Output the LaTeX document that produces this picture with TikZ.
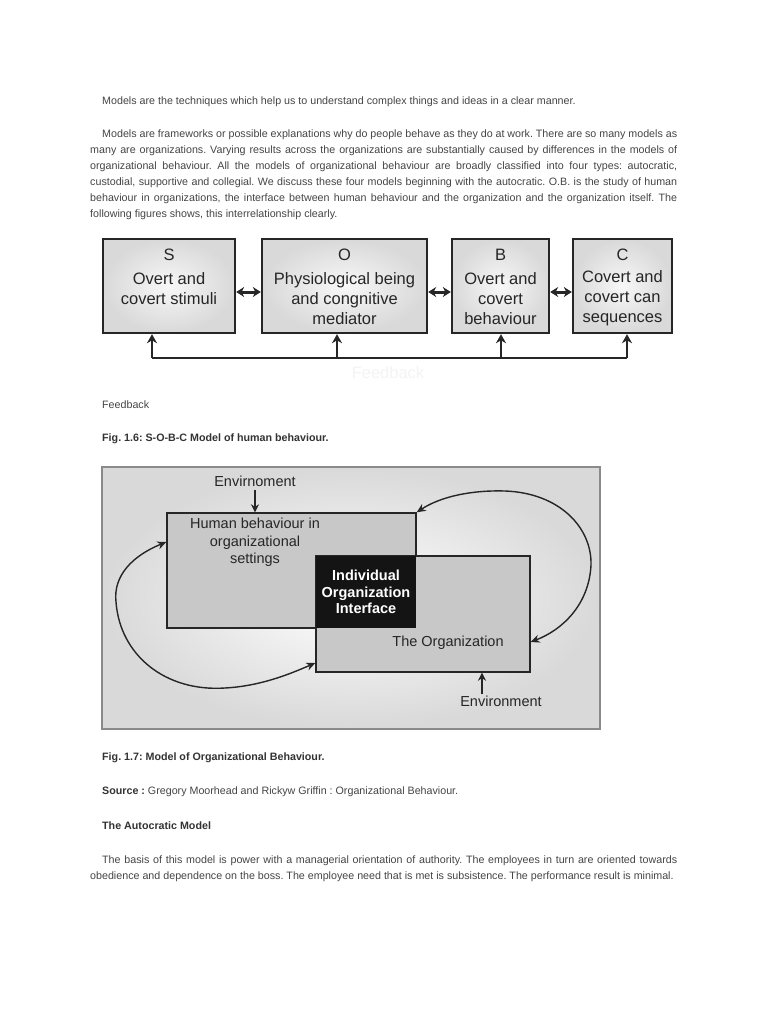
\documentclass[tikz,border=0pt]{standalone}
\usepackage{fontspec}
\setmainfont{Liberation Sans}
\usetikzlibrary{arrows.meta}
\definecolor{txt}{HTML}{454545}
\definecolor{captc}{HTML}{333333}
\definecolor{boxedge}{HTML}{262626}
\definecolor{boxgray}{HTML}{C8C8C8}
\definecolor{framegray}{HTML}{8A8A8A}
\frenchspacing
\begin{document}
\begin{tikzpicture}[x=1pt,y=-1pt,
  body/.style={inner sep=0pt, anchor=base west, text=txt, font=\fontsize{10.7}{12}\selectfont},
  capt/.style={inner sep=0pt, anchor=base west, text=captc, font=\fontsize{10.7}{12}\selectfont\bfseries},
  sobc/.style={draw=boxedge, line width=2.4pt, inner color=gray!6, outer color=gray!30, inner sep=0pt, minimum height=94pt},
  sobctxt/.style={inner sep=0pt, align=center, text=black!85, font=\fontsize{16.5}{20}\selectfont},
  dbl/.style={line width=3pt, draw=boxedge, arrows={Stealth[length=8pt,width=10pt]-Stealth[length=8pt,width=10pt]}},
  fbline/.style={line width=2.6pt, draw=boxedge},
  fbup/.style={line width=2.6pt, draw=boxedge, arrows={-Stealth[length=9pt,width=10pt]}},
  orgbox/.style={draw=black!85, line width=1.4pt, fill=boxgray, inner sep=0pt},
  obtxt/.style={inner sep=0pt, align=center, text=black!85, font=\fontsize{14.5}{17.5}\selectfont},
  curvearrow/.style={line width=1.4pt, draw=black!85, arrows={Stealth[length=9pt,width=8pt]-Stealth[length=9pt,width=8pt]}},
  envarrow/.style={line width=1.8pt, draw=black!85, arrows={-Stealth[length=8pt,width=8pt]}},
]
\fill[white] (0,0) rectangle (768,1024);
\useasboundingbox (0,0) rectangle (768,1024);

% ---------- opening text ----------
\node[body] (t1) at (102,104.5) {Models are the techniques which help us to understand complex things and ideas in a clear manner.};
\node[body] (p1) at (102,137.5) {\makebox[575pt][s]{Models are frameworks or possible explanations why do people behave as they do at work. There are so many models as}};
\node[body] (p2) at (90,153.5) {\makebox[587pt][s]{many are organizations. Varying results across the organizations are substantially caused by differences in the models of}};
\node[body] (p3) at (90,169.5) {\makebox[587pt][s]{organizational behaviour. All the models of organizational behaviour are broadly classified into four types: autocratic,}};
\node[body] (p4) at (90,185.5) {\makebox[587pt][s]{custodial, supportive and collegial. We discuss these four models beginning with the autocratic. O.B. is the study of human}};
\node[body] (p5) at (90,201.5) {\makebox[587pt][s]{behaviour in organizations, the interface between human behaviour and the organization and the organization itself. The}};
\node[body] (p6) at (90,217.5) {following figures shows, this interrelationship clearly.};

% ---------- Fig 1.6 : S-O-B-C ----------
\node[sobc, minimum width=132pt] (S) at (169,286) {};
\node[sobc, minimum width=165pt] (O) at (344.5,286) {};
\node[sobc, minimum width=97pt]  (B) at (500.5,286) {};
\node[sobc, minimum width=99pt]  (C) at (622.5,286) {};

\node[sobctxt] (Sl) at (169,255) {S};
\node[sobctxt] (Ol) at (344.5,255) {O};
\node[sobctxt] (Bl) at (500.5,255) {B};
\node[sobctxt] (Cl) at (622.5,255) {C};
\node[sobctxt] (St) at (169,289) {Overt and\\covert stimuli};
\node[sobctxt] (Ot) at (344.5,298.5) {Physiological being\\and congnitive\\mediator};
\node[sobctxt] (Bt) at (500.5,298.5) {Overt and\\covert\\behaviour};
\node[sobctxt] (Ct) at (622.5,298.5) {Covert and\\covert can\\sequences};

\draw[dbl] ([yshift=-6pt]S.east) -- ([yshift=-6pt]O.west);
\draw[dbl] ([yshift=-6pt]O.east) -- ([yshift=-6pt]B.west);
\draw[dbl] ([yshift=-6pt]B.east) -- ([yshift=-6pt]C.west);

\coordinate (f1) at (152,358);
\coordinate (f2) at (337,358);
\coordinate (f3) at (501,358);
\coordinate (f4) at (627,358);
\draw[fbline] (f1) -- (f4);
\draw[fbup] (f1) -- (f1 |- S.south);
\draw[fbup] (f2) -- (f2 |- O.south);
\draw[fbup] (f3) -- (f3 |- B.south);
\draw[fbup] (f4) -- (f4 |- C.south);
\node[sobctxt, text=gray!9] (fbfaint) at (388,373) {Feedback};

\node[body] (fbcap) at (102,408.5) {Feedback};
\node[capt] (fig16) at (102,441.5) {Fig. 1.6: S-O-B-C Model of human behaviour.};

% ---------- Fig 1.7 : Model of OB ----------
\node[draw=framegray, line width=1.5pt, inner color=white, outer color=gray!30, minimum width=498pt, minimum height=262pt, inner sep=0pt] (frame) at (351,598) {};

\node[orgbox, minimum width=249pt, minimum height=115pt] (hb) at (291.5,570.5) {};
\node[orgbox, minimum width=214pt, minimum height=116pt] (ob) at (423,614) {};
\node[fill=black!92, inner sep=0pt, minimum width=100pt, minimum height=72pt, align=center, text=white, font=\fontsize{14.5}{16.5}\selectfont\bfseries] (iface) at (366,592) {Individual\\Organization\\Interface};

\node[obtxt] (hbt) at (255,542.5) {Human behaviour in\\organizational\\settings};
\node[obtxt] (obt) at (448,643) {The Organization};
\node[obtxt] (env1) at (255,481) {Envirnoment};
\node[obtxt] (env2) at (501,701) {Environment};
\draw[envarrow] ([yshift=-3pt]env1.south) -- (env1.south |- hb.north);
\coordinate (ea) at (482,694);
\draw[envarrow] (ea) -- (ea |- ob.south);

\draw[curvearrow] ([yshift=28.5pt]hb.west) .. controls (132,556) and (113,576) .. (116,602)
  .. controls (120,655) and (165,692) .. (225,688)
  .. controls (262,686) and (292,673) .. ([yshift=-49pt]ob.west);
\draw[curvearrow] (hb.north east) .. controls (440,497) and (470,490) .. (505,491)
  .. controls (560,493) and (592,528) .. (591,565)
  .. controls (589,605) and (562,630) .. ([yshift=-28pt]ob.east);

% ---------- closing text ----------
\node[capt] (fig17) at (102,760.5) {Fig. 1.7: Model of Organizational Behaviour.};
\node[body] (src) at (102,794.5) {{\bfseries\color{captc}Source :} Gregory Moorhead and Rickyw Griffin : Organizational Behaviour.};
\node[capt] (auto) at (102,829.5) {The Autocratic Model};
\node[body] (q1) at (102,863.5) {\makebox[575pt][s]{The basis of this model is power with a managerial orientation of authority. The employees in turn are oriented towards}};
\node[body] (q2) at (90,879.5) {obedience and dependence on the boss. The employee need that is met is subsistence. The performance result is minimal.};
\end{tikzpicture}
\end{document}
